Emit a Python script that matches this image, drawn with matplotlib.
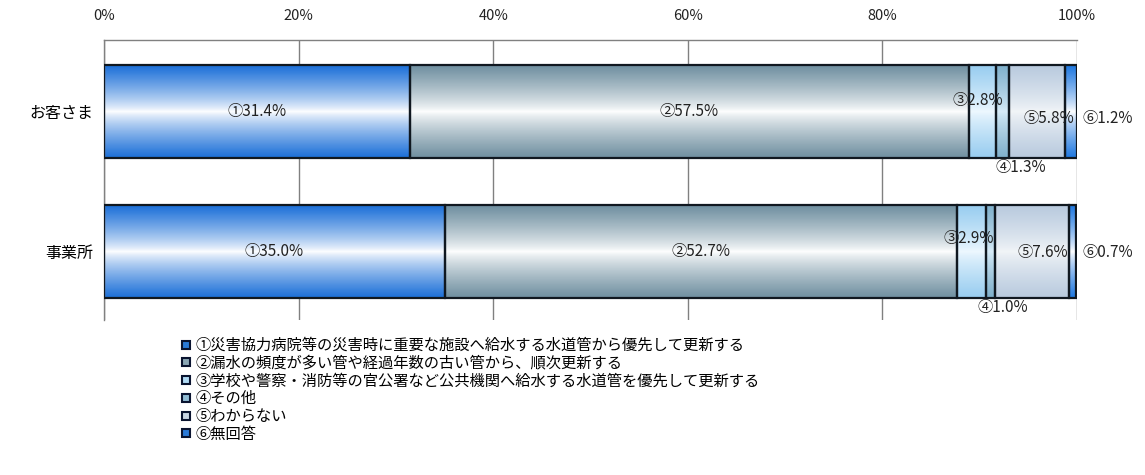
import numpy as np
import matplotlib.pyplot as plt
from matplotlib.colors import LinearSegmentedColormap
from matplotlib.lines import Line2D

plt.rcParams['font.family'] = ['Noto Sans CJK JP', 'DejaVu Sans']

# data
groups = ['お客さま', '事業所']
marks = ['①', '②', '③', '④', '⑤', '⑥']
legend_labels = [
    '①災害協力病院等の災害時に重要な施設へ給水する水道管から優先して更新する',
    '②漏水の頻度が多い管や経過年数の古い管から、順次更新する',
    '③学校や警察・消防等の官公署など公共機関へ給水する水道管を優先して更新する',
    '④その他',
    '⑤わからない',
    '⑥無回答',
]
okyaku = [31.4, 57.5, 2.8, 1.3, 5.8, 1.2]
jigyosho = [35.0, 52.7, 2.9, 1.0, 7.6, 0.7]
values = np.array([okyaku, jigyosho])

# edge colour of each gradient (centre goes to near white)
edge_cols = ['#1b6fd8', '#6f8fa0', '#98cdf0', '#7fb0cc', '#b8cade', '#1f78e0']
mid_cols = ['#ffffff', '#ffffff', '#eef8ff', '#d8ecf8', '#f2f5f8', '#ffffff']
legend_fill = ['#2a7ad8', '#8aa6b4', '#b0daf4', '#90bcd4', '#c8d6e4', '#2a7ad8']

# label offsets in pixels (dx, dy) per segment, per group
offsets = {
    0: [(0, 0), (0, 0), (-5, 11), (18, -56), (12, -7), (None, -7)],
    1: [(0, 0), (0, 0), (-3, 13), (12, -56), (11, -1), (None, -1)],
}

fig = plt.figure(figsize=(11.45, 4.75), dpi=100)
ax = fig.add_axes([104 / 1145, 1 - 320 / 475, 973 / 1145, 280 / 475])

bar_h = 0.664
y = np.arange(len(groups))
left = np.zeros(len(groups))
for i in range(len(marks)):
    bars = ax.barh(y, values[:, i], left=left, height=bar_h, facecolor='none',
                   edgecolor='#101820', linewidth=1.6, zorder=3)
    cmap = LinearSegmentedColormap.from_list('g%d' % i, [edge_cols[i], mid_cols[i], edge_cols[i]])
    t = np.linspace(0, 1, 200)
    prof = 0.5 + 0.5 * np.sign(t - 0.5) * np.abs(2 * t - 1) ** 0.8
    grad = prof.reshape(-1, 1)
    for p in bars.patches:
        x0, y0 = p.get_x(), p.get_y()
        ax.imshow(grad, extent=[x0, x0 + p.get_width(), y0 + p.get_height(), y0],
                  aspect='auto', cmap=cmap, vmin=0, vmax=1, zorder=2, interpolation='bilinear')
    for g in range(len(groups)):
        v = values[g, i]
        cx = left[g] + v / 2
        dx, dy = offsets[g][i]
        txt = '%s%.1f%%' % (marks[i], v)
        if dx is None:
            ax.annotate(txt, xy=(100, y[g]), xytext=(5, dy), textcoords='offset pixels',
                        ha='left', va='center', fontsize=11, color='#222222', zorder=5,
                        annotation_clip=False)
        else:
            ax.annotate(txt, xy=(cx, y[g]), xytext=(dx, dy), textcoords='offset pixels',
                        ha='center', va='center', fontsize=11, color='#222222', zorder=5,
                        annotation_clip=False)
    left = left + values[:, i]

ax.set_xlim(0, 100)
ax.set_ylim(1.489, -0.511)
ax.set_xticks(np.arange(0, 101, 20))
ax.set_xticklabels(['%d%%' % v for v in range(0, 101, 20)], fontsize=10.5, color='#222222')
ax.xaxis.tick_top()
ax.tick_params(axis='x', length=0, pad=12)
ax.grid(axis='x', color='#808080', linewidth=1, zorder=0)
ax.set_yticks(y)
ax.set_yticklabels(groups, fontsize=11.5)
ax.tick_params(axis='y', length=0, pad=8)
for s in ['right', 'bottom']:
    ax.spines[s].set_visible(False)
for s in ['top', 'left']:
    ax.spines[s].set_color('#808080')
    ax.spines[s].set_linewidth(1)

handles = [Line2D([], [], marker='s', linestyle='none', markersize=6,
                  markerfacecolor=legend_fill[i], markeredgecolor='#0a1430', markeredgewidth=1.5)
           for i in range(len(marks))]
fig.legend(handles, legend_labels, loc='upper left', bbox_to_anchor=(180 / 1145, 1 - 337 / 475),
           frameon=False, fontsize=11, labelspacing=0.05, handlelength=0.8, handletextpad=0.2,
           borderpad=0, borderaxespad=0)

fig.savefig('out.png', dpi=100)
